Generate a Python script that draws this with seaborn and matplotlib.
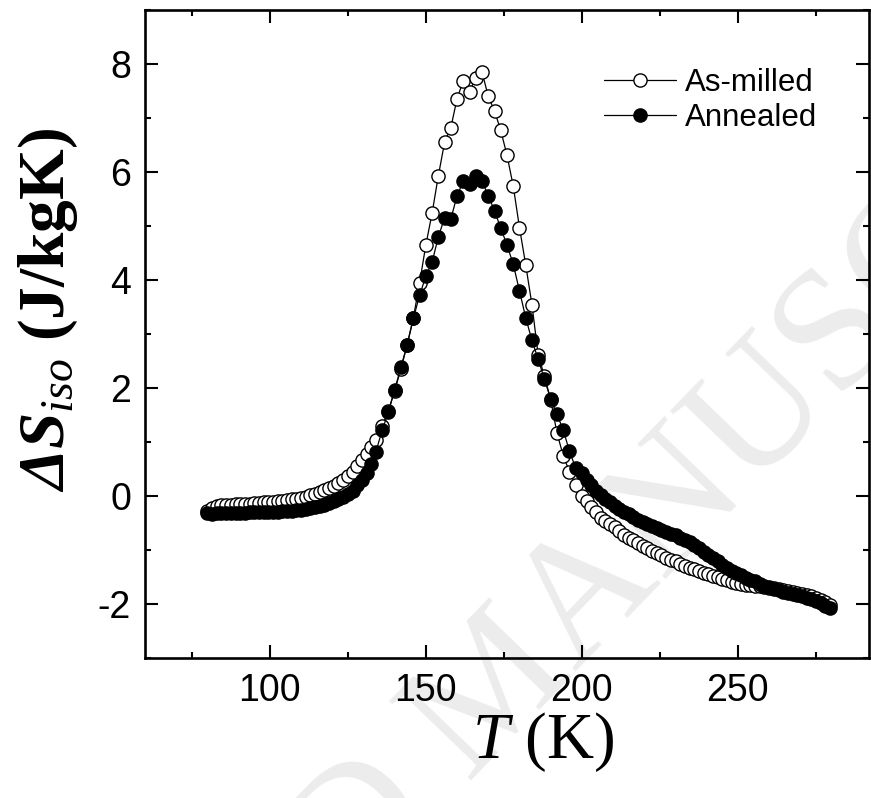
import matplotlib
matplotlib.use("Agg")
import matplotlib.pyplot as plt
from matplotlib.ticker import MultipleLocator
import pandas as pd
import seaborn as sns

# ---------------- data ----------------
temperature = [
    80, 81.5, 83, 84.5, 86, 87.5, 89, 90.5, 92, 93.5, 95, 96.5, 98, 99.5, 101, 102.5,
    104, 105.5, 107, 108.5, 110, 111.5, 113, 114.5, 116, 117.5, 119, 120.5, 122, 123.5,
    125, 126.5, 128, 129.5, 131, 132.5, 134,
    136, 138, 140, 142, 144, 146, 148, 150, 152, 154, 156, 158, 160, 162, 164, 166, 168,
    170, 172, 174, 176, 178, 180, 182, 184, 186, 188, 190, 192, 194, 196, 198, 200,
    201.5, 203, 204.5, 206, 207.5, 209, 210.5, 212, 213.5, 215, 216.5, 218, 219.5, 221,
    222.5, 224, 225.5, 227, 228.5, 230, 231.5, 233, 234.5, 236, 237.5, 239, 240.5, 242,
    243.5, 245, 246.5, 248, 249.5, 251, 252.5, 254, 255.5, 257, 258.5, 260, 261.5, 263,
    264.5, 266, 267.5, 269, 270.5, 272, 273.5, 275, 276.5, 278, 279.5,
]

as_milled = [
    -0.28, -0.22, -0.19, -0.17, -0.16, -0.16, -0.15, -0.15, -0.14, -0.14, -0.13, -0.13,
    -0.12, -0.12, -0.11, -0.10, -0.09, -0.08, -0.06, -0.05, -0.03, -0.01, 0.01, 0.04,
    0.07, 0.11, 0.15, 0.19, 0.24, 0.30, 0.37, 0.45, 0.55, 0.66, 0.78, 0.90, 1.03,
    1.30, 1.58, 1.95, 2.35, 2.80, 3.30, 3.95, 4.65, 5.24, 5.93, 6.55, 6.82, 7.36, 7.69,
    7.49, 7.75, 7.85, 7.40, 7.13, 6.77, 6.31, 5.74, 4.97, 4.28, 3.54, 2.61, 2.22, 1.78,
    1.17, 0.75, 0.45, 0.20, 0.00,
    -0.10, -0.20, -0.30, -0.40, -0.46, -0.52, -0.58, -0.65, -0.72, -0.77, -0.82, -0.87,
    -0.92, -0.97, -1.01, -1.05, -1.10, -1.14, -1.18, -1.21, -1.25, -1.29, -1.33, -1.36,
    -1.39, -1.42, -1.45, -1.48, -1.50, -1.53, -1.56, -1.59, -1.61, -1.63, -1.64, -1.65,
    -1.66, -1.66, -1.68, -1.70, -1.71, -1.72, -1.74, -1.75, -1.77, -1.79, -1.81, -1.83,
    -1.86, -1.89, -1.92, -1.96, -2.01,
]

annealed = [
    -0.31, -0.33, -0.32, -0.32, -0.31, -0.31, -0.31, -0.31, -0.31, -0.30, -0.30, -0.30,
    -0.30, -0.30, -0.29, -0.29, -0.28, -0.28, -0.27, -0.26, -0.25, -0.24, -0.22, -0.20,
    -0.18, -0.16, -0.13, -0.10, -0.06, -0.02, 0.03, 0.10, 0.20, 0.30, 0.42, 0.60, 0.82,
    1.22, 1.55, 1.97, 2.38, 2.80, 3.29, 3.72, 4.07, 4.33, 4.80, 5.15, 5.13, 5.56, 5.83,
    5.77, 5.93, 5.83, 5.56, 5.28, 4.96, 4.65, 4.29, 3.80, 3.30, 2.88, 2.53, 2.16, 1.80,
    1.51, 1.23, 0.83, 0.52, 0.43,
    0.30, 0.20, 0.10, 0.02, -0.05, -0.12, -0.18, -0.24, -0.29, -0.34, -0.39, -0.44,
    -0.48, -0.52, -0.56, -0.60, -0.63, -0.66, -0.70, -0.73, -0.77, -0.81, -0.86, -0.91,
    -0.97, -1.03, -1.09, -1.15, -1.21, -1.27, -1.33, -1.38, -1.43, -1.47, -1.51, -1.55,
    -1.58, -1.63, -1.66, -1.69, -1.72, -1.74, -1.77, -1.79, -1.81, -1.84, -1.86, -1.89,
    -1.91, -1.94, -1.98, -2.03, -2.07,
]

series_names = ["As-milled", "Annealed"]
x_ticks = [100, 150, 200, 250]
y_ticks = [-2, 0, 2, 4, 6, 8]

# ---------------- style ----------------
sns.set_theme(style="ticks")
plt.rcParams["font.family"] = ["Liberation Sans", "DejaVu Sans"]
plt.rcParams["mathtext.fontset"] = "custom"
plt.rcParams["mathtext.rm"] = "Liberation Serif:italic"
plt.rcParams["mathtext.it"] = "Liberation Serif:italic"
plt.rcParams["mathtext.bf"] = "Liberation Serif:bold:italic"

W, H = 871, 798
fig = plt.figure(figsize=(W / 100, H / 100), dpi=100)
fig.patch.set_facecolor("white")

# faint watermark behind everything
fig.text(500 / W, 1 - 690 / H, "ACCEPTED MANUSCRIPT", rotation=46,
         ha="center", va="center", rotation_mode="anchor",
         fontsize=125, color="#ececec", family="Liberation Serif", zorder=-5)

ax = fig.add_axes([145 / W, 140 / H, 724 / W, 648 / H])
ax.set_facecolor("none")

df_m = pd.DataFrame({"T": temperature, "S": as_milled})
df_a = pd.DataFrame({"T": temperature, "S": annealed})

sns.lineplot(data=df_m, x="T", y="S", ax=ax, color="black", lw=0.9,
             marker="o", markersize=9.5, markerfacecolor="white",
             markeredgecolor="black", markeredgewidth=1.0,
             label=series_names[0], estimator=None, sort=False)
sns.lineplot(data=df_a, x="T", y="S", ax=ax, color="black", lw=0.9,
             marker="o", markersize=9.5, markerfacecolor="black",
             markeredgecolor="black", markeredgewidth=1.0,
             label=series_names[1], estimator=None, sort=False)

ax.set_xlim(60, 292)
ax.set_ylim(-3, 9)
ax.set_xticks(x_ticks)
ax.set_yticks(y_ticks)
ax.set_xticklabels([str(v) for v in x_ticks])
ax.set_yticklabels([str(v) for v in y_ticks])
ax.xaxis.set_minor_locator(MultipleLocator(25))
ax.yaxis.set_minor_locator(MultipleLocator(1))

for s in ax.spines.values():
    s.set_visible(True)
    s.set_linewidth(1.9)
    s.set_color("black")

ax.tick_params(which="both", direction="in", top=True, right=True,
               width=1.5, color="black")
ax.tick_params(which="major", length=9.5, labelsize=27, pad=10)
ax.tick_params(which="minor", length=4.5)
ax.tick_params(axis="x", which="major", pad=11)
for lab in ax.get_xticklabels() + ax.get_yticklabels():
    lab.set_family(["Liberation Sans", "DejaVu Sans"])
    lab.set_color("black")

ax.set_xlabel(r"$T$ (K)", fontsize=47, family="Liberation Serif", color="black")
ax.set_ylabel(r"$\mathbf{ΔS}_{iso}$ (J/kgK)", fontsize=47,
              family="Liberation Serif", fontweight="bold", color="black")
ax.xaxis.set_label_coords((543 - 145) / 724, (658 - 710) / 648)
ax.yaxis.set_label_coords((80 - 145) / 724, (658 - 310) / 648)

leg = ax.legend(loc="upper left", bbox_to_anchor=((604 - 145) / 724, (658 - 68) / 648),
                frameon=False, fontsize=22.5, handlelength=2.3, handletextpad=0.3,
                labelspacing=0.15, borderpad=0, borderaxespad=0)
for t in leg.get_texts():
    t.set_color("black")

fig.savefig("out.png", dpi=100, facecolor="white")
